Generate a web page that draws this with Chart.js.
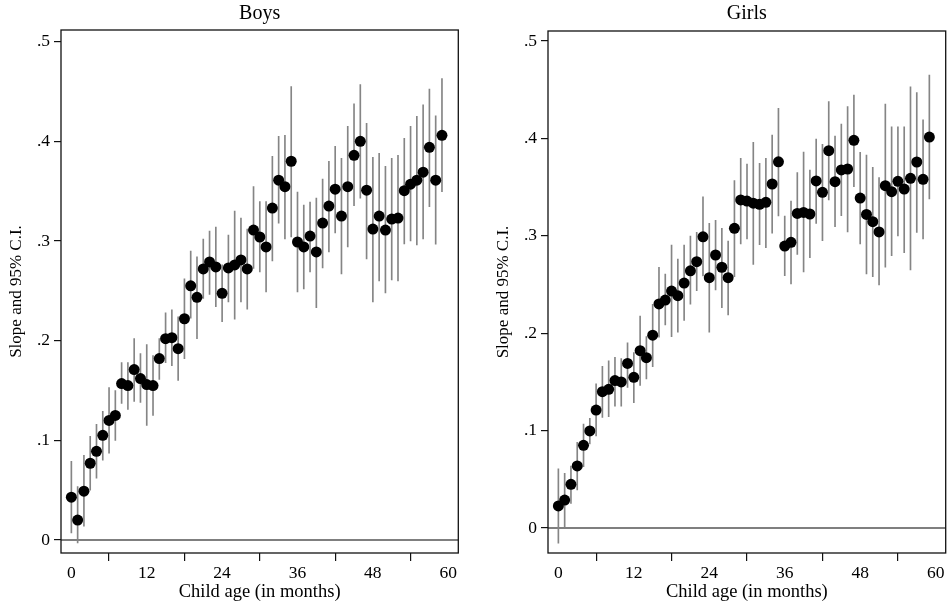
<!DOCTYPE html>
<html>
<head>
<meta charset="utf-8">
<script src="https://cdn.jsdelivr.net/npm/chart.js@4/dist/chart.umd.min.js"></script>
<style>
  html, body { margin: 0; padding: 0; background: #fff; width: 947px; height: 608px; overflow: hidden; }
  canvas { position: absolute; top: 0; }
  #boys { left: 0; }
  #girls { left: 487px; }
</style>
</head>
<body>
<canvas id="boys" width="470" height="608"></canvas>
<canvas id="girls" width="460" height="608"></canvas>
<script>
// Child age in months
const ages = [0,1,2,3,4,5,6,7,8,9,10,11,12,13,14,15,16,17,18,19,
              20,21,22,23,24,25,26,27,28,29,30,31,32,33,34,35,36,37,38,39,
              40,41,42,43,44,45,46,47,48,49,50,51,52,53,54,55,56,57,58,59];

// Boys: slope estimate with lower / upper 95% bounds
const boysSlope = [0.043,0.020,0.049,0.077,0.089,0.105,0.120,0.125,0.157,0.155,
                   0.171,0.162,0.156,0.155,0.182,0.202,0.203,0.192,0.222,0.255,
                   0.2435,0.272,0.279,0.274,0.2475,0.273,0.276,0.281,0.272,0.311,
                   0.304,0.294,0.333,0.361,0.3545,0.380,0.299,0.294,0.305,0.289,
                   0.318,0.335,0.352,0.325,0.3545,0.386,0.400,0.351,0.312,0.325,
                   0.311,0.322,0.323,0.3505,0.357,0.361,0.369,0.394,0.361,0.406];
const boysLow   = [0.007,-0.003,0.014,0.050,0.062,0.080,0.087,0.100,0.137,0.131,
                   0.139,0.138,0.115,0.125,0.161,0.178,0.175,0.160,0.182,0.2225,
                   0.202,0.2425,0.2465,0.234,0.219,0.239,0.2215,0.239,0.2315,0.2726,
                   0.269,0.249,0.280,0.318,0.302,0.304,0.249,0.252,0.269,0.233,
                   0.273,0.289,0.308,0.267,0.294,0.3355,0.343,0.282,0.239,0.260,
                   0.248,0.261,0.260,0.297,0.300,0.296,0.302,0.3345,0.2967,0.3495];
const boysHigh  = [0.079,0.0535,0.085,0.104,0.116,0.129,0.153,0.150,0.178,0.178,
                   0.202,0.187,0.196,0.185,0.202,0.228,0.231,0.224,0.262,0.290,
                   0.284,0.302,0.310,0.314,0.276,0.306,0.330,0.323,0.312,0.3545,
                   0.3395,0.3395,0.385,0.405,0.406,0.455,0.349,0.336,0.339,0.343,
                   0.362,0.380,0.395,0.383,0.415,0.4375,0.457,0.418,0.384,0.388,
                   0.375,0.383,0.386,0.403,0.415,0.425,0.4365,0.4525,0.4255,0.463];

// Girls: slope estimate with lower / upper 95% bounds
const girlsSlope = [0.0226,0.0287,0.0448,0.0637,0.0849,0.0996,0.1211,0.140,0.1424,0.1513,
                    0.150,0.169,0.1547,0.182,0.1749,0.198,0.230,0.234,0.2433,0.2385,
                    0.2515,0.264,0.2734,0.299,0.257,0.2803,0.2677,0.257,0.3077,0.3368,
                    0.3357,0.3335,0.3323,0.3344,0.3532,0.376,0.2895,0.2933,0.323,0.324,
                    0.3224,0.3563,0.3446,0.3874,0.3556,0.3676,0.3686,0.398,0.3388,0.322,
                    0.3145,0.304,0.3515,0.3453,0.356,0.348,0.359,0.3758,0.358,0.4014];
const girlsLow   = [-0.0157,0.0013,0.0253,0.039,0.063,0.0862,0.0945,0.1136,0.1143,0.125,
                    0.125,0.1444,0.1287,0.1465,0.153,0.1656,0.196,0.2084,0.1965,0.201,
                    0.213,0.2297,0.2437,0.2587,0.201,0.2444,0.2262,0.2187,0.258,0.2916,
                    0.2967,0.2707,0.291,0.2878,0.3026,0.3203,0.259,0.2505,0.281,0.263,
                    0.2775,0.3128,0.295,0.3368,0.3094,0.3207,0.304,0.3504,0.2916,0.2608,
                    0.258,0.2495,0.2677,0.2796,0.300,0.2827,0.265,0.3036,0.2967,0.3378];
const girlsHigh  = [0.0606,0.056,0.0636,0.088,0.1068,0.1126,0.148,0.166,0.1715,0.1752,
                    0.174,0.190,0.180,0.2177,0.1965,0.2297,0.2677,0.2608,0.2906,0.276,
                    0.2906,0.2998,0.3036,0.340,0.3128,0.316,0.3077,0.2947,0.3566,0.3796,
                    0.3737,0.396,0.3744,0.3796,0.4035,0.4309,0.3203,0.3357,0.365,0.386,
                    0.3676,0.3994,0.394,0.4377,0.4025,0.4148,0.4326,0.4446,0.3857,0.383,
                    0.3703,0.3597,0.4353,0.412,0.412,0.412,0.453,0.447,0.419,0.465];

// Axis tick positions
const ageTicks = [0, 12, 24, 36, 48, 60];
const slopeTicks = [0, 0.1, 0.2, 0.3, 0.4, 0.5];

const SERIF = "'Liberation Serif', 'Times New Roman', serif";
Chart.defaults.font.family = SERIF;
Chart.defaults.color = '#000';

// Closed frame around the plot region
const framePlugin = {
  id: 'frame',
  afterDatasetsDraw(chart) {
    const { ctx, chartArea: a } = chart;
    ctx.save();
    ctx.strokeStyle = '#111';
    ctx.lineWidth = 1.3;
    ctx.strokeRect(a.left, a.top, a.right - a.left, a.bottom - a.top);
    ctx.restore();
  }
};

function panel(id, title, est, lo, hi, yMin, yMax, titlePadBottom, padRight) {
  const xMin = -1.65, xMax = 61.6;
  return new Chart(document.getElementById(id), {
    type: 'scatter',
    data: {
      datasets: [
        {
          type: 'scatter',
          data: ages.map((a, i) => ({ x: a, y: est[i] })),
          backgroundColor: '#000',
          borderWidth: 0,
          pointRadius: 5.5,
          pointHoverRadius: 5.5,
          order: 0
        },
        {
          type: 'bar',
          data: ages.map((a, i) => ({ x: a, y: [lo[i], hi[i]] })),
          backgroundColor: '#858585',
          borderWidth: 0,
          barThickness: 1,
          grouped: false,
          order: 1
        },
        {
          type: 'line',
          data: [{ x: xMin, y: 0 }, { x: xMax, y: 0 }],
          borderColor: '#555',
          borderWidth: 1.5,
          pointRadius: 0,
          order: 2
        }
      ]
    },
    options: {
      responsive: false,
      animation: false,
      events: [],
      layout: { autoPadding: false, padding: { left: 0, right: padRight, top: 0, bottom: 0 } },
      plugins: {
        legend: { display: false },
        tooltip: { enabled: false },
        title: {
          display: true,
          fullSize: false,
          text: title,
          color: '#000',
          font: { family: SERIF, size: 20, weight: 'normal', lineHeight: 1 },
          padding: { top: 4, bottom: titlePadBottom }
        }
      },
      scales: {
        x: {
          type: 'linear',
          min: xMin,
          max: xMax,
          offset: false,
          afterBuildTicks: s => { s.ticks = ageTicks.map(v => ({ value: v })); },
          afterFit: s => { s.height = 55; s.paddingLeft = 0; s.paddingRight = 0; },
          ticks: { font: { size: 17.5 }, padding: 2, maxRotation: 0, autoSkip: false },
          grid: { drawOnChartArea: false, drawTicks: true, tickLength: 8, color: '#111', lineWidth: 1.2 },
          border: { display: false },
          title: {
            display: true,
            text: 'Child age (in months)',
            font: { size: 18.5, lineHeight: 1.2 },
            padding: { top: 0, bottom: 4.9 }
          }
        },
        y: {
          type: 'linear',
          min: yMin,
          max: yMax,
          afterBuildTicks: s => { s.ticks = slopeTicks.map(v => ({ value: v })); },
          afterFit: s => { s.width = 61; s.paddingTop = 0; s.paddingBottom = 0; },
          ticks: {
            font: { size: 17.5 },
            padding: 4,
            callback: v => (v === 0 ? '0' : '.' + Math.round(v * 10))
          },
          grid: { drawOnChartArea: false, drawTicks: true, tickLength: 7, color: '#111', lineWidth: 1.2 },
          border: { display: false },
          title: {
            display: true,
            text: 'Slope and 95% C.I.',
            font: { size: 17, lineHeight: 1.2 },
            padding: { top: 6.8, bottom: 0 }
          }
        }
      }
    },
    plugins: [framePlugin]
  });
}

panel('boys', 'Boys', boysSlope, boysLow, boysHigh, -0.01304, 0.5117, 6, 11.7);
panel('girls', 'Girls', girlsSlope, girlsLow, girlsHigh, -0.0257, 0.5103, 7, 1.3);
</script>
</body>
</html>
